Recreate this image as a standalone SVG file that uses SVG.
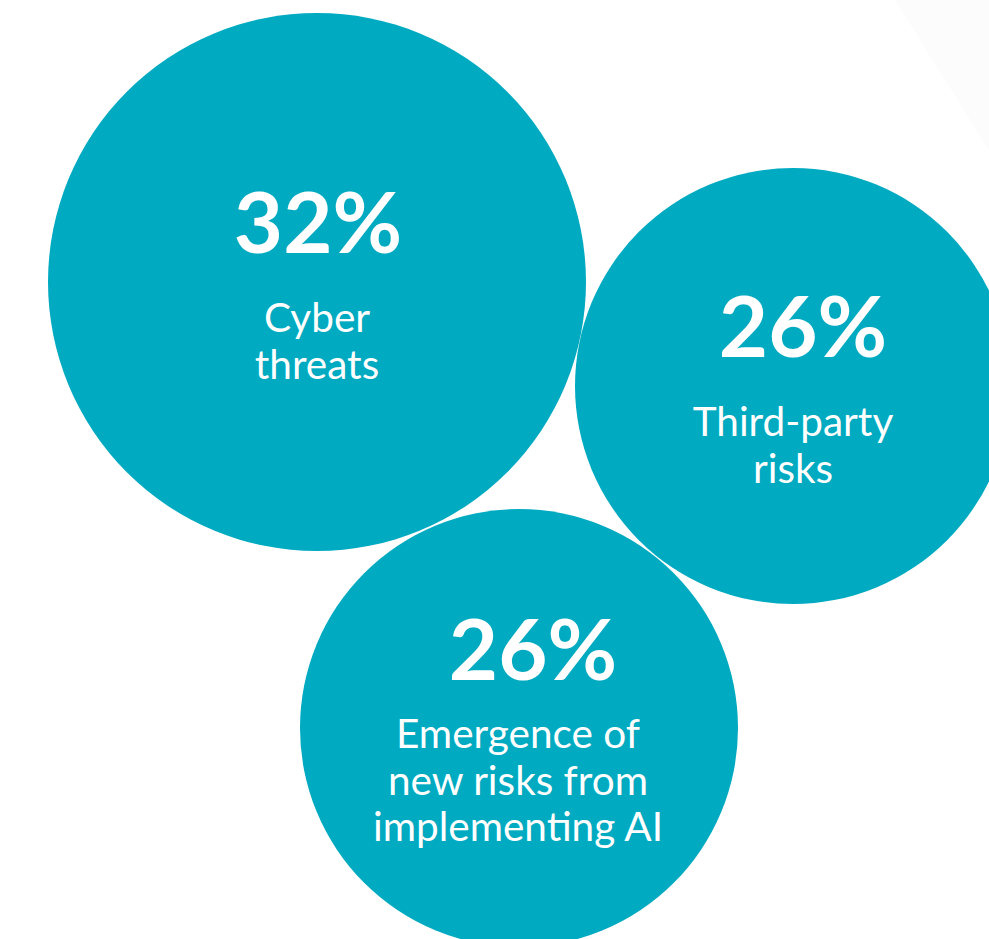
<svg xmlns="http://www.w3.org/2000/svg" width="989" height="939" viewBox="0 0 989 939">
<style>
.c{fill:#00AAC1}
.n{font-family:Lato,"Liberation Sans",sans-serif;font-weight:700;font-size:85px;fill:#fff;text-anchor:middle}
.l{font-family:Lato,"Liberation Sans",sans-serif;font-weight:400;font-size:40.5px;fill:#fff;text-anchor:middle}
</style>
<rect width="989" height="939" fill="#fff"/>
<polygon points="895,0 989,0 989,150" fill="#fcfcfc"/>
<g id="node-cyber">
<circle class="c" cx="317" cy="282" r="269"/>
<text class="n" x="318" y="253">32%</text>
<text class="l" x="317" y="332">Cyber</text>
<text class="l" x="317" y="379">threats</text>
</g>
<g id="node-third-party">
<circle class="c" cx="793" cy="386" r="218"/>
<text class="n" x="803" y="357">26%</text>
<text class="l" x="793" y="436">Third-party</text>
<text class="l" x="793" y="483">risks</text>
</g>
<g id="node-ai">
<circle class="c" cx="519" cy="728" r="219"/>
<text class="n" x="533" y="680">26%</text>
<text class="l" x="518" y="748">Emergence of</text>
<text class="l" x="518" y="795">new risks from</text>
<text class="l" x="518" y="841">implementing AI</text>
</g>
<g id="connectors"/>
</svg>
